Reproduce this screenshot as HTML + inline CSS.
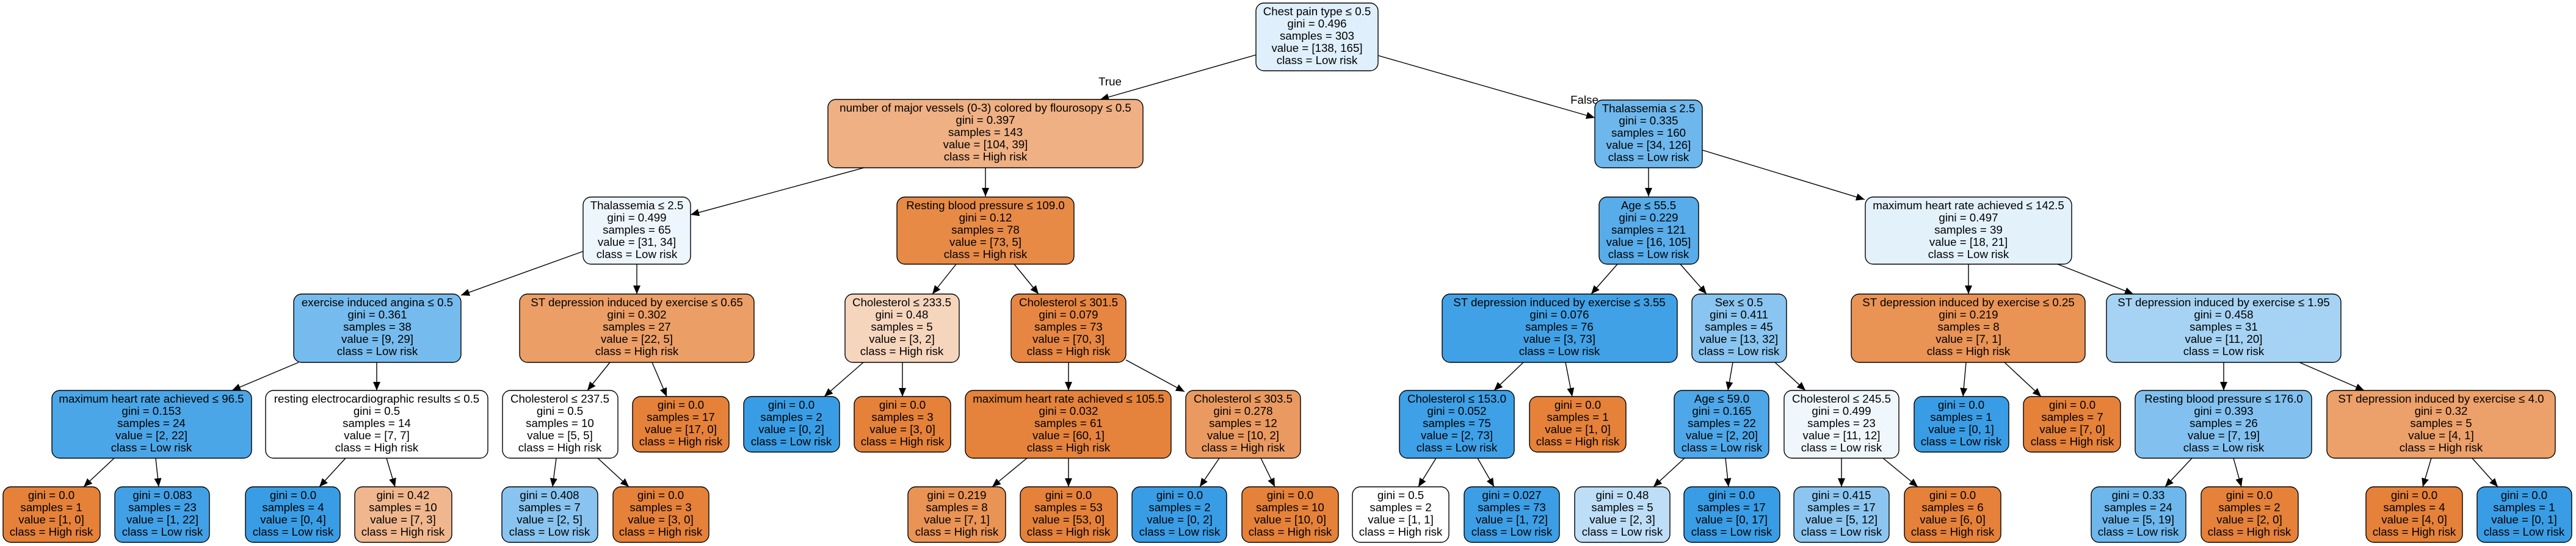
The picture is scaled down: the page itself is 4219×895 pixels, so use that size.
<!DOCTYPE html>
<html><head><meta charset="utf-8"><style>
html,body{margin:0;padding:0;background:#fff;}
svg{display:block;}
text{font-family:"Liberation Sans",Arial,sans-serif;font-size:18.7px;fill:#000;text-anchor:middle;}
rect{stroke:#000;stroke-width:1.4;}
line{stroke:#000;stroke-width:1.4;}
</style></head><body>
<svg width="4219" height="895" viewBox="0 0 4219 895" xmlns="http://www.w3.org/2000/svg">
<defs><marker id="a" markerWidth="14" markerHeight="12" refX="14" refY="6" orient="auto" markerUnits="userSpaceOnUse"><path d="M0,0 L14,6 L0,12 z" fill="#000"/></marker></defs>

<!-- edges -->
<g marker-end="url(#a)">
<line x1="2057" y1="90" x2="1802" y2="163"/>
<line x1="2257" y1="91" x2="2612" y2="193"/>
<line x1="1415" y1="275" x2="1131" y2="352"/>
<line x1="1614" y1="275" x2="1614" y2="322"/>
<line x1="2700" y1="275" x2="2700" y2="322"/>
<line x1="2788" y1="246" x2="3054" y2="327"/>
<line x1="955" y1="412" x2="755" y2="484"/>
<line x1="1043" y1="433" x2="1043" y2="482"/>
<line x1="1566" y1="433" x2="1527" y2="482"/>
<line x1="1661" y1="433" x2="1701" y2="482"/>
<line x1="2649" y1="433" x2="2606" y2="482"/>
<line x1="2752" y1="433" x2="2795" y2="482"/>
<line x1="3224" y1="433" x2="3224" y2="482"/>
<line x1="3370" y1="433" x2="3494" y2="482"/>
<line x1="489" y1="594" x2="380" y2="640"/>
<line x1="617" y1="594" x2="617" y2="640"/>
<line x1="999" y1="594" x2="962" y2="640"/>
<line x1="1068" y1="594" x2="1092" y2="650"/>
<line x1="1414" y1="594" x2="1350" y2="650"/>
<line x1="1478" y1="594" x2="1478" y2="650"/>
<line x1="1750" y1="594" x2="1750" y2="640"/>
<line x1="1844" y1="590" x2="1940" y2="642"/>
<line x1="2495" y1="594" x2="2447" y2="640"/>
<line x1="2564" y1="594" x2="2575" y2="650"/>
<line x1="2838" y1="594" x2="2830" y2="640"/>
<line x1="2907" y1="594" x2="2957" y2="640"/>
<line x1="3220" y1="594" x2="3215" y2="650"/>
<line x1="3283" y1="594" x2="3343" y2="650"/>
<line x1="3642" y1="594" x2="3642" y2="640"/>
<line x1="3766" y1="594" x2="3872" y2="640"/>
<line x1="187" y1="751" x2="137" y2="798"/>
<line x1="255" y1="751" x2="260" y2="798"/>
<line x1="566" y1="751" x2="523" y2="798"/>
<line x1="633" y1="751" x2="647" y2="798"/>
<line x1="911" y1="751" x2="905" y2="798"/>
<line x1="979" y1="751" x2="1030" y2="798"/>
<line x1="1682" y1="751" x2="1625" y2="798"/>
<line x1="1750" y1="751" x2="1750" y2="798"/>
<line x1="1997" y1="751" x2="1965" y2="798"/>
<line x1="2065" y1="751" x2="2088" y2="798"/>
<line x1="2352" y1="751" x2="2323" y2="798"/>
<line x1="2420" y1="751" x2="2447" y2="798"/>
<line x1="2759" y1="751" x2="2708" y2="798"/>
<line x1="2826" y1="751" x2="2831" y2="798"/>
<line x1="3016" y1="751" x2="3016" y2="798"/>
<line x1="3084" y1="751" x2="3141" y2="798"/>
<line x1="3590" y1="751" x2="3546" y2="798"/>
<line x1="3658" y1="751" x2="3671" y2="798"/>
<line x1="3982" y1="751" x2="3968" y2="798"/>
<line x1="4049" y1="751" x2="4091" y2="798"/>
</g>
<text x="1818" y="140">True</text>
<text x="2595" y="170">False</text>

<!-- L0 -->
<rect x="2057" y="5" width="200" height="111" rx="13" fill="#dfeffb"/>
<text y="25"><tspan x="2157">Chest pain type ≤ 0.5</tspan><tspan x="2157" dy="20">gini = 0.496</tspan><tspan x="2157" dy="20">samples = 303</tspan><tspan x="2157" dy="20">value = [138, 165]</tspan><tspan x="2157" dy="20">class = Low risk</tspan></text>

<!-- L1 -->
<rect x="1356" y="163" width="516" height="112" rx="13" fill="#efb083"/>
<text y="183"><tspan x="1614">number of major vessels (0-3) colored by flourosopy ≤ 0.5</tspan><tspan x="1614" dy="20">gini = 0.397</tspan><tspan x="1614" dy="20">samples = 143</tspan><tspan x="1614" dy="20">value = [104, 39]</tspan><tspan x="1614" dy="20">class = High risk</tspan></text>
<rect x="2612" y="164" width="176" height="111" rx="13" fill="#6eb7ec"/>
<text y="184"><tspan x="2700">Thalassemia ≤ 2.5</tspan><tspan x="2700" dy="20">gini = 0.335</tspan><tspan x="2700" dy="20">samples = 160</tspan><tspan x="2700" dy="20">value = [34, 126]</tspan><tspan x="2700" dy="20">class = Low risk</tspan></text>

<!-- L2 -->
<rect x="955" y="323" width="176" height="110" rx="13" fill="#eef6fd"/>
<text y="343"><tspan x="1043">Thalassemia ≤ 2.5</tspan><tspan x="1043" dy="20">gini = 0.499</tspan><tspan x="1043" dy="20">samples = 65</tspan><tspan x="1043" dy="20">value = [31, 34]</tspan><tspan x="1043" dy="20">class = Low risk</tspan></text>
<rect x="1469" y="323" width="290" height="110" rx="13" fill="#e78a46"/>
<text y="343"><tspan x="1614">Resting blood pressure ≤ 109.0</tspan><tspan x="1614" dy="20">gini = 0.12</tspan><tspan x="1614" dy="20">samples = 78</tspan><tspan x="1614" dy="20">value = [73, 5]</tspan><tspan x="1614" dy="20">class = High risk</tspan></text>
<rect x="2619" y="323" width="163" height="110" rx="13" fill="#57ace9"/>
<text y="343"><tspan x="2700">Age ≤ 55.5</tspan><tspan x="2700" dy="20">gini = 0.229</tspan><tspan x="2700" dy="20">samples = 121</tspan><tspan x="2700" dy="20">value = [16, 105]</tspan><tspan x="2700" dy="20">class = Low risk</tspan></text>
<rect x="3055" y="323" width="338" height="110" rx="13" fill="#e3f1fb"/>
<text y="343"><tspan x="3224">maximum heart rate achieved ≤ 142.5</tspan><tspan x="3224" dy="20">gini = 0.497</tspan><tspan x="3224" dy="20">samples = 39</tspan><tspan x="3224" dy="20">value = [18, 21]</tspan><tspan x="3224" dy="20">class = Low risk</tspan></text>

<!-- L3 -->
<rect x="481" y="482" width="274" height="112" rx="13" fill="#76bbed"/>
<text y="502"><tspan x="618">exercise induced angina ≤ 0.5</tspan><tspan x="618" dy="20">gini = 0.361</tspan><tspan x="618" dy="20">samples = 38</tspan><tspan x="618" dy="20">value = [9, 29]</tspan><tspan x="618" dy="20">class = Low risk</tspan></text>
<rect x="851" y="482" width="384" height="112" rx="13" fill="#eb9e66"/>
<text y="502"><tspan x="1043">ST depression induced by exercise  ≤ 0.65</tspan><tspan x="1043" dy="20">gini = 0.302</tspan><tspan x="1043" dy="20">samples = 27</tspan><tspan x="1043" dy="20">value = [22, 5]</tspan><tspan x="1043" dy="20">class = High risk</tspan></text>
<rect x="1384" y="482" width="187" height="112" rx="13" fill="#f6d5bd"/>
<text y="502"><tspan x="1477">Cholesterol ≤ 233.5</tspan><tspan x="1477" dy="20">gini = 0.48</tspan><tspan x="1477" dy="20">samples = 5</tspan><tspan x="1477" dy="20">value = [3, 2]</tspan><tspan x="1477" dy="20">class = High risk</tspan></text>
<rect x="1656" y="482" width="188" height="112" rx="13" fill="#e68642"/>
<text y="502"><tspan x="1750">Cholesterol ≤ 301.5</tspan><tspan x="1750" dy="20">gini = 0.079</tspan><tspan x="1750" dy="20">samples = 73</tspan><tspan x="1750" dy="20">value = [70, 3]</tspan><tspan x="1750" dy="20">class = High risk</tspan></text>
<rect x="2362" y="482" width="385" height="112" rx="13" fill="#41a1e6"/>
<text y="502"><tspan x="2554">ST depression induced by exercise  ≤ 3.55</tspan><tspan x="2554" dy="20">gini = 0.076</tspan><tspan x="2554" dy="20">samples = 76</tspan><tspan x="2554" dy="20">value = [3, 73]</tspan><tspan x="2554" dy="20">class = Low risk</tspan></text>
<rect x="2771" y="482" width="155" height="112" rx="13" fill="#89c5f0"/>
<text y="502"><tspan x="2848">Sex ≤ 0.5</tspan><tspan x="2848" dy="20">gini = 0.411</tspan><tspan x="2848" dy="20">samples = 45</tspan><tspan x="2848" dy="20">value = [13, 32]</tspan><tspan x="2848" dy="20">class = Low risk</tspan></text>
<rect x="3032" y="482" width="383" height="112" rx="13" fill="#e99355"/>
<text y="502"><tspan x="3224">ST depression induced by exercise  ≤ 0.25</tspan><tspan x="3224" dy="20">gini = 0.219</tspan><tspan x="3224" dy="20">samples = 8</tspan><tspan x="3224" dy="20">value = [7, 1]</tspan><tspan x="3224" dy="20">class = High risk</tspan></text>
<rect x="3450" y="482" width="384" height="112" rx="13" fill="#a6d3f3"/>
<text y="502"><tspan x="3642">ST depression induced by exercise  ≤ 1.95</tspan><tspan x="3642" dy="20">gini = 0.458</tspan><tspan x="3642" dy="20">samples = 31</tspan><tspan x="3642" dy="20">value = [11, 20]</tspan><tspan x="3642" dy="20">class = Low risk</tspan></text>

<!-- L4 internal -->
<rect x="85" y="640" width="327" height="111" rx="13" fill="#4ba6e7"/>
<text y="660"><tspan x="248">maximum heart rate achieved ≤ 96.5</tspan><tspan x="248" dy="20">gini = 0.153</tspan><tspan x="248" dy="20">samples = 24</tspan><tspan x="248" dy="20">value = [2, 22]</tspan><tspan x="248" dy="20">class = Low risk</tspan></text>
<rect x="435" y="640" width="364" height="111" rx="13" fill="#ffffff"/>
<text y="660"><tspan x="617">resting electrocardiographic results ≤ 0.5</tspan><tspan x="617" dy="20">gini = 0.5</tspan><tspan x="617" dy="20">samples = 14</tspan><tspan x="617" dy="20">value = [7, 7]</tspan><tspan x="617" dy="20">class = High risk</tspan></text>
<rect x="823" y="640" width="189" height="111" rx="13" fill="#ffffff"/>
<text y="660"><tspan x="917">Cholesterol ≤ 237.5</tspan><tspan x="917" dy="20">gini = 0.5</tspan><tspan x="917" dy="20">samples = 10</tspan><tspan x="917" dy="20">value = [5, 5]</tspan><tspan x="917" dy="20">class = High risk</tspan></text>
<rect x="1581" y="640" width="337" height="111" rx="13" fill="#e5833c"/>
<text y="660"><tspan x="1750">maximum heart rate achieved ≤ 105.5</tspan><tspan x="1750" dy="20">gini = 0.032</tspan><tspan x="1750" dy="20">samples = 61</tspan><tspan x="1750" dy="20">value = [60, 1]</tspan><tspan x="1750" dy="20">class = High risk</tspan></text>
<rect x="1942" y="640" width="188" height="111" rx="13" fill="#ea9a61"/>
<text y="660"><tspan x="2036">Cholesterol ≤ 303.5</tspan><tspan x="2036" dy="20">gini = 0.278</tspan><tspan x="2036" dy="20">samples = 12</tspan><tspan x="2036" dy="20">value = [10, 2]</tspan><tspan x="2036" dy="20">class = High risk</tspan></text>
<rect x="2292" y="640" width="188" height="111" rx="13" fill="#3ea0e6"/>
<text y="660"><tspan x="2386">Cholesterol ≤ 153.0</tspan><tspan x="2386" dy="20">gini = 0.052</tspan><tspan x="2386" dy="20">samples = 75</tspan><tspan x="2386" dy="20">value = [2, 73]</tspan><tspan x="2386" dy="20">class = Low risk</tspan></text>
<rect x="2742" y="640" width="155" height="111" rx="13" fill="#4da7e8"/>
<text y="660"><tspan x="2820">Age ≤ 59.0</tspan><tspan x="2820" dy="20">gini = 0.165</tspan><tspan x="2820" dy="20">samples = 22</tspan><tspan x="2820" dy="20">value = [2, 20]</tspan><tspan x="2820" dy="20">class = Low risk</tspan></text>
<rect x="2922" y="640" width="188" height="111" rx="13" fill="#eff7fd"/>
<text y="660"><tspan x="3016">Cholesterol ≤ 245.5</tspan><tspan x="3016" dy="20">gini = 0.499</tspan><tspan x="3016" dy="20">samples = 23</tspan><tspan x="3016" dy="20">value = [11, 12]</tspan><tspan x="3016" dy="20">class = Low risk</tspan></text>
<rect x="3497" y="640" width="289" height="111" rx="13" fill="#82c1ef"/>
<text y="660"><tspan x="3642">Resting blood pressure ≤ 176.0</tspan><tspan x="3642" dy="20">gini = 0.393</tspan><tspan x="3642" dy="20">samples = 26</tspan><tspan x="3642" dy="20">value = [7, 19]</tspan><tspan x="3642" dy="20">class = Low risk</tspan></text>
<rect x="3811" y="640" width="374" height="111" rx="13" fill="#eca06a"/>
<text y="660"><tspan x="3998">ST depression induced by exercise  ≤ 4.0</tspan><tspan x="3998" dy="20">gini = 0.32</tspan><tspan x="3998" dy="20">samples = 5</tspan><tspan x="3998" dy="20">value = [4, 1]</tspan><tspan x="3998" dy="20">class = High risk</tspan></text>

<!-- L4 leaves -->
<rect x="1036" y="650" width="158" height="91" rx="13" fill="#e58139"/>
<text y="670"><tspan x="1115">gini = 0.0</tspan><tspan x="1115" dy="20">samples = 17</tspan><tspan x="1115" dy="20">value = [17, 0]</tspan><tspan x="1115" dy="20">class = High risk</tspan></text>
<rect x="1218" y="650" width="157" height="91" rx="13" fill="#399de5"/>
<text y="670"><tspan x="1296">gini = 0.0</tspan><tspan x="1296" dy="20">samples = 2</tspan><tspan x="1296" dy="20">value = [0, 2]</tspan><tspan x="1296" dy="20">class = Low risk</tspan></text>
<rect x="1399" y="650" width="158" height="91" rx="13" fill="#e58139"/>
<text y="670"><tspan x="1478">gini = 0.0</tspan><tspan x="1478" dy="20">samples = 3</tspan><tspan x="1478" dy="20">value = [3, 0]</tspan><tspan x="1478" dy="20">class = High risk</tspan></text>
<rect x="2505" y="650" width="158" height="91" rx="13" fill="#e58139"/>
<text y="670"><tspan x="2584">gini = 0.0</tspan><tspan x="2584" dy="20">samples = 1</tspan><tspan x="2584" dy="20">value = [1, 0]</tspan><tspan x="2584" dy="20">class = High risk</tspan></text>
<rect x="3135" y="650" width="155" height="91" rx="13" fill="#399de5"/>
<text y="670"><tspan x="3212">gini = 0.0</tspan><tspan x="3212" dy="20">samples = 1</tspan><tspan x="3212" dy="20">value = [0, 1]</tspan><tspan x="3212" dy="20">class = Low risk</tspan></text>
<rect x="3314" y="650" width="159" height="91" rx="13" fill="#e58139"/>
<text y="670"><tspan x="3394">gini = 0.0</tspan><tspan x="3394" dy="20">samples = 7</tspan><tspan x="3394" dy="20">value = [7, 0]</tspan><tspan x="3394" dy="20">class = High risk</tspan></text>

<!-- L5 leaves -->
<rect x="5" y="798" width="159" height="91" rx="13" fill="#e58139"/>
<text y="818"><tspan x="84">gini = 0.0</tspan><tspan x="84" dy="20">samples = 1</tspan><tspan x="84" dy="20">value = [1, 0]</tspan><tspan x="84" dy="20">class = High risk</tspan></text>
<rect x="188" y="798" width="155" height="91" rx="13" fill="#42a1e6"/>
<text y="818"><tspan x="266">gini = 0.083</tspan><tspan x="266" dy="20">samples = 23</tspan><tspan x="266" dy="20">value = [1, 22]</tspan><tspan x="266" dy="20">class = Low risk</tspan></text>
<rect x="402" y="798" width="155" height="91" rx="13" fill="#399de5"/>
<text y="818"><tspan x="480">gini = 0.0</tspan><tspan x="480" dy="20">samples = 4</tspan><tspan x="480" dy="20">value = [0, 4]</tspan><tspan x="480" dy="20">class = Low risk</tspan></text>
<rect x="581" y="798" width="159" height="91" rx="13" fill="#f0b78e"/>
<text y="818"><tspan x="660">gini = 0.42</tspan><tspan x="660" dy="20">samples = 10</tspan><tspan x="660" dy="20">value = [7, 3]</tspan><tspan x="660" dy="20">class = High risk</tspan></text>
<rect x="822" y="798" width="157" height="91" rx="13" fill="#88c4ef"/>
<text y="818"><tspan x="900">gini = 0.408</tspan><tspan x="900" dy="20">samples = 7</tspan><tspan x="900" dy="20">value = [2, 5]</tspan><tspan x="900" dy="20">class = Low risk</tspan></text>
<rect x="1004" y="798" width="157" height="91" rx="13" fill="#e58139"/>
<text y="818"><tspan x="1082">gini = 0.0</tspan><tspan x="1082" dy="20">samples = 3</tspan><tspan x="1082" dy="20">value = [3, 0]</tspan><tspan x="1082" dy="20">class = High risk</tspan></text>
<rect x="1487" y="798" width="160" height="91" rx="13" fill="#e99355"/>
<text y="818"><tspan x="1567">gini = 0.219</tspan><tspan x="1567" dy="20">samples = 8</tspan><tspan x="1567" dy="20">value = [7, 1]</tspan><tspan x="1567" dy="20">class = High risk</tspan></text>
<rect x="1671" y="798" width="159" height="91" rx="13" fill="#e58139"/>
<text y="818"><tspan x="1750">gini = 0.0</tspan><tspan x="1750" dy="20">samples = 53</tspan><tspan x="1750" dy="20">value = [53, 0]</tspan><tspan x="1750" dy="20">class = High risk</tspan></text>
<rect x="1854" y="798" width="155" height="91" rx="13" fill="#399de5"/>
<text y="818"><tspan x="1932">gini = 0.0</tspan><tspan x="1932" dy="20">samples = 2</tspan><tspan x="1932" dy="20">value = [0, 2]</tspan><tspan x="1932" dy="20">class = Low risk</tspan></text>
<rect x="2034" y="798" width="158" height="91" rx="13" fill="#e58139"/>
<text y="818"><tspan x="2113">gini = 0.0</tspan><tspan x="2113" dy="20">samples = 10</tspan><tspan x="2113" dy="20">value = [10, 0]</tspan><tspan x="2113" dy="20">class = High risk</tspan></text>
<rect x="2215" y="798" width="158" height="91" rx="13" fill="#ffffff"/>
<text y="818"><tspan x="2294">gini = 0.5</tspan><tspan x="2294" dy="20">samples = 2</tspan><tspan x="2294" dy="20">value = [1, 1]</tspan><tspan x="2294" dy="20">class = High risk</tspan></text>
<rect x="2398" y="798" width="156" height="91" rx="13" fill="#3c9ee5"/>
<text y="818"><tspan x="2476">gini = 0.027</tspan><tspan x="2476" dy="20">samples = 73</tspan><tspan x="2476" dy="20">value = [1, 72]</tspan><tspan x="2476" dy="20">class = Low risk</tspan></text>
<rect x="2579" y="798" width="156" height="91" rx="13" fill="#bddef6"/>
<text y="818"><tspan x="2657">gini = 0.48</tspan><tspan x="2657" dy="20">samples = 5</tspan><tspan x="2657" dy="20">value = [2, 3]</tspan><tspan x="2657" dy="20">class = Low risk</tspan></text>
<rect x="2758" y="798" width="157" height="91" rx="13" fill="#399de5"/>
<text y="818"><tspan x="2836">gini = 0.0</tspan><tspan x="2836" dy="20">samples = 17</tspan><tspan x="2836" dy="20">value = [0, 17]</tspan><tspan x="2836" dy="20">class = Low risk</tspan></text>
<rect x="2938" y="798" width="156" height="91" rx="13" fill="#8cc6f0"/>
<text y="818"><tspan x="3016">gini = 0.415</tspan><tspan x="3016" dy="20">samples = 17</tspan><tspan x="3016" dy="20">value = [5, 12]</tspan><tspan x="3016" dy="20">class = Low risk</tspan></text>
<rect x="3119" y="798" width="158" height="91" rx="13" fill="#e58139"/>
<text y="818"><tspan x="3198">gini = 0.0</tspan><tspan x="3198" dy="20">samples = 6</tspan><tspan x="3198" dy="20">value = [6, 0]</tspan><tspan x="3198" dy="20">class = High risk</tspan></text>
<rect x="3425" y="798" width="155" height="91" rx="13" fill="#6db7ec"/>
<text y="818"><tspan x="3502">gini = 0.33</tspan><tspan x="3502" dy="20">samples = 24</tspan><tspan x="3502" dy="20">value = [5, 19]</tspan><tspan x="3502" dy="20">class = Low risk</tspan></text>
<rect x="3605" y="798" width="159" height="91" rx="13" fill="#e58139"/>
<text y="818"><tspan x="3684">gini = 0.0</tspan><tspan x="3684" dy="20">samples = 2</tspan><tspan x="3684" dy="20">value = [2, 0]</tspan><tspan x="3684" dy="20">class = High risk</tspan></text>
<rect x="3875" y="798" width="158" height="91" rx="13" fill="#e58139"/>
<text y="818"><tspan x="3954">gini = 0.0</tspan><tspan x="3954" dy="20">samples = 4</tspan><tspan x="3954" dy="20">value = [4, 0]</tspan><tspan x="3954" dy="20">class = High risk</tspan></text>
<rect x="4057" y="798" width="155" height="91" rx="13" fill="#399de5"/>
<text y="818"><tspan x="4134">gini = 0.0</tspan><tspan x="4134" dy="20">samples = 1</tspan><tspan x="4134" dy="20">value = [0, 1]</tspan><tspan x="4134" dy="20">class = Low risk</tspan></text>
</svg>
</body></html>
